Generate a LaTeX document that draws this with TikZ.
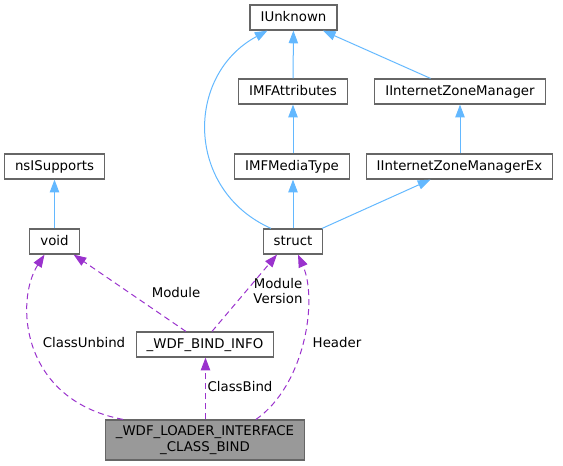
\documentclass[tikz,border=0pt]{standalone}
\usepackage{fontspec}
\setmainfont{DejaVu Sans}
\usetikzlibrary{positioning}
\usetikzlibrary{arrows.meta}
\usetikzlibrary{calc}

\definecolor{boxgray}{HTML}{666666}
\definecolor{mainfill}{HTML}{999999}
\definecolor{inhblue}{HTML}{63B8FF}
\definecolor{usepurple}{HTML}{9A32CD}

\begin{document}
\begin{tikzpicture}[x=0.75pt,y=-0.75pt,
% Class boxes style
    cls/.style={rectangle,draw=boxgray,line width=0.9pt,fill=white,
		inner xsep=7.9pt,inner ysep=0pt,minimum height=18.75pt,
		text height=7.4pt,text depth=2pt,font=\fontsize{10}{11.5}\selectfont},
    mainbox/.style={cls,fill=mainfill,minimum height=30pt,align=center,
		text height=,text depth=},
% Edge styles
    inh/.style={draw=inhblue,line width=0.75pt,
		-{Triangle[length=9.5pt,width=7pt]}},
    assoc/.style={draw=usepurple,line width=0.75pt,dash pattern=on 4.5pt off 3pt,
		-{Triangle[length=9.5pt,width=7pt,fill=usepurple]}},
% Label style
    lbl/.style={font=\fontsize{10}{11.5}\selectfont,align=center}
    ]
  \useasboundingbox (0,0) rectangle (563,465);

  \node (iunk) [cls] at (293.5,17.5) {IUnknown};
  \node (imfattr) [cls] at (293,91.5) {IMFAttributes};
  \node (izm) [cls] at (460,91.5) {IInternetZoneManager};
  \node (nsis) [cls] at (54.5,166.5) {nsISupports};
  \node (imfmt) [cls] at (292,166.5) {IMFMediaType};
  \node (izmex) [cls] at (459.5,166.5) {IInternetZoneManagerEx};
  \node (void) [cls] at (54.5,241.5) {void};
  \node (struct) [cls] at (293,241.5) {struct};
  \node (bindinfo) [cls] at (205,344.5) {\_WDF\_BIND\_INFO};
  \node (loader) [mainbox] at (205,440) {\_WDF\_LOADER\_INTERFACE\\\_CLASS\_BIND};

% inheritance
  \draw[inh] (imfattr) -- (iunk);
  \draw[inh] (izm) -- (iunk);
  \draw[inh] ($(struct.north)+(-22,0)$) .. controls (185,190) and (185,75) .. ($(iunk.south)+(-26,0)$);
  \draw[inh] (imfmt.north -| imfattr) -- (imfattr);
  \draw[inh] (struct) -- (imfmt.south -| struct);
  \draw[inh] (struct) -- (izmex);
  \draw[inh] (izmex.north -| izm) -- (izm);
  \draw[inh] (void) -- (nsis);

% usage
  \draw[assoc] (bindinfo) -- (void);
  \draw[assoc] ($(bindinfo.north)+(7,0)$) -- ($(struct.south)+(-16,0)$);
  \draw[assoc] ($(loader.north)+(-82,0)$) .. controls (20,400) and (15,300) .. ($(void.south)+(-10,0)$);
  \draw[assoc] ($(loader.north)+(0.5,0)$) -- ($(bindinfo.south)+(0.5,0)$);
  \draw[assoc] ($(loader.north)+(51,0)$) .. controls (305,385) and (318,300) .. ($(struct.south)+(5,0)$);

  \node (lmod) [lbl] at (176,293) {Module};
  \node (lmodver) [lbl] at (278,291) {Module\\Version};
  \node (lunbind) [lbl] at (84,343) {ClassUnbind};
  \node (lhead) [lbl] at (337,343) {Header};
  \node (lbind) [lbl] at (240,387) {ClassBind};

\end{tikzpicture}
\end{document}
